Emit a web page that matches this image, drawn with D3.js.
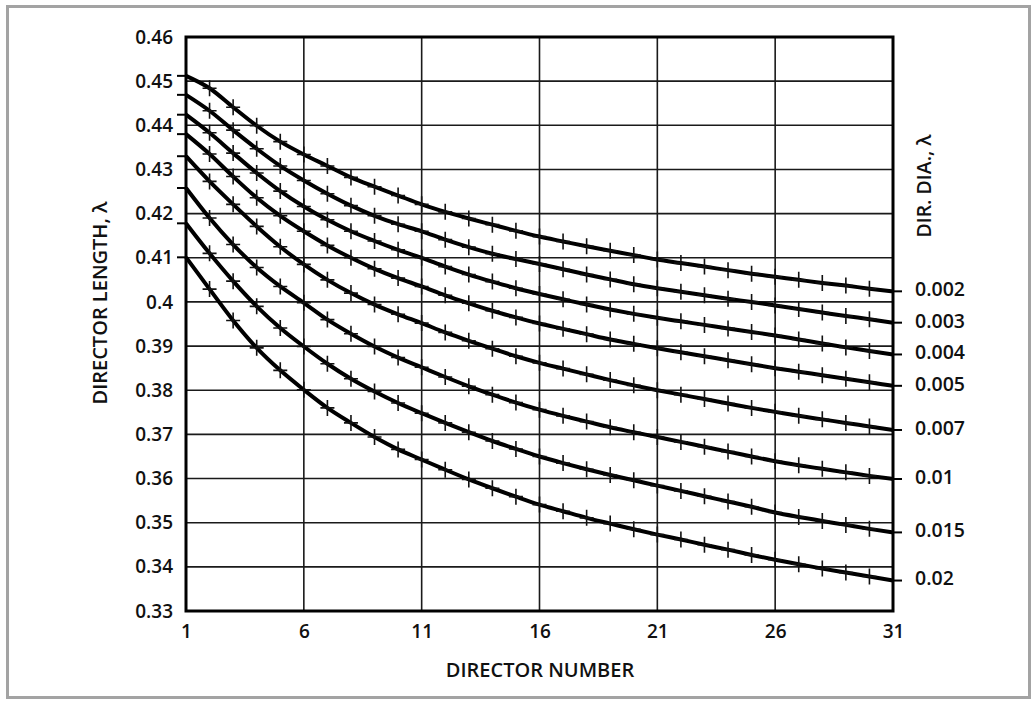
<!DOCTYPE html>
<html>
<head>
<meta charset="utf-8">
<script src="https://cdn.jsdelivr.net/npm/d3@7/dist/d3.min.js"></script>
<style>
  body { margin: 0; background: #fff; }
  text { font-family: "Open Sans", sans-serif; font-weight: 600; fill: #111; }
</style>
</head>
<body>
<svg id="chart" width="1036" height="704"></svg>
<script>
'use strict';

// director number, 1..31
var directors = [1, 2, 3, 4, 5, 6, 7, 8, 9, 10, 11, 12, 13, 14, 15, 16,
                 17, 18, 19, 20, 21, 22, 23, 24, 25, 26, 27, 28, 29, 30, 31];

var xTicks = [1, 6, 11, 16, 21, 26, 31];
var yTicks = [0.33, 0.34, 0.35, 0.36, 0.37, 0.38, 0.39, 0.4, 0.41, 0.42, 0.43, 0.44, 0.45, 0.46];
var yTickLabels = ['0.33', '0.34', '0.35', '0.36', '0.37', '0.38', '0.39', '0.4', '0.41', '0.42', '0.43', '0.44', '0.45', '0.46'];

// director diameter (wavelengths), one curve each
var diameters = ['0.002', '0.003', '0.004', '0.005', '0.007', '0.01', '0.015', '0.02'];

// director length (wavelengths) per director number
var len002 = [0.4512, 0.4484, 0.4441, 0.4399, 0.4363, 0.4334, 0.4308, 0.4282, 0.4261, 0.4241, 0.4221,
              0.4204, 0.4189, 0.4175, 0.4161, 0.4148, 0.4137, 0.4126, 0.4116, 0.4106, 0.4096,
              0.4088, 0.4080, 0.4072, 0.4064, 0.4057, 0.4050, 0.4043, 0.4037, 0.4030, 0.4024];
var len003 = [0.4469, 0.4433, 0.4389, 0.4347, 0.4308, 0.4275, 0.4245, 0.4218, 0.4195, 0.4176, 0.4160,
              0.4141, 0.4124, 0.4109, 0.4097, 0.4086, 0.4074, 0.4062, 0.4051, 0.4040, 0.4031,
              0.4023, 0.4015, 0.4007, 0.4000, 0.3992, 0.3984, 0.3976, 0.3968, 0.3961, 0.3953];
var len004 = [0.4424, 0.4383, 0.4337, 0.4292, 0.4251, 0.4216, 0.4186, 0.4160, 0.4138, 0.4118, 0.4100,
              0.4080, 0.4062, 0.4046, 0.4031, 0.4018, 0.4006, 0.3994, 0.3983, 0.3973, 0.3964,
              0.3956, 0.3948, 0.3940, 0.3932, 0.3924, 0.3915, 0.3906, 0.3897, 0.3889, 0.3881];
var len005 = [0.4380, 0.4335, 0.4284, 0.4236, 0.4195, 0.4160, 0.4128, 0.4100, 0.4075, 0.4054, 0.4035,
              0.4015, 0.3997, 0.3980, 0.3965, 0.3951, 0.3939, 0.3927, 0.3915, 0.3905, 0.3895,
              0.3886, 0.3877, 0.3868, 0.3859, 0.3850, 0.3842, 0.3834, 0.3826, 0.3818, 0.3810];
var len007 = [0.4330, 0.4273, 0.4221, 0.4171, 0.4125, 0.4085, 0.4050, 0.4020, 0.3994, 0.3972, 0.3952,
              0.3931, 0.3912, 0.3894, 0.3877, 0.3862, 0.3849, 0.3836, 0.3823, 0.3811, 0.3800,
              0.3790, 0.3780, 0.3770, 0.3760, 0.3751, 0.3742, 0.3734, 0.3726, 0.3718, 0.3710];
var len010 = [0.4258, 0.4190, 0.4130, 0.4078, 0.4035, 0.3998, 0.3960, 0.3928, 0.3899, 0.3874, 0.3852,
              0.3830, 0.3809, 0.3790, 0.3772, 0.3756, 0.3742, 0.3729, 0.3716, 0.3705, 0.3694,
              0.3683, 0.3672, 0.3661, 0.3650, 0.3639, 0.3630, 0.3622, 0.3614, 0.3606, 0.3599];
var len015 = [0.4178, 0.4110, 0.4047, 0.3990, 0.3941, 0.3899, 0.3860, 0.3826, 0.3797, 0.3771, 0.3748,
              0.3726, 0.3705, 0.3685, 0.3667, 0.3650, 0.3635, 0.3621, 0.3608, 0.3596, 0.3584,
              0.3572, 0.3560, 0.3548, 0.3536, 0.3523, 0.3513, 0.3504, 0.3495, 0.3486, 0.3478];
var len020 = [0.4101, 0.4029, 0.3958, 0.3896, 0.3845, 0.3801, 0.3760, 0.3726, 0.3694, 0.3666, 0.3643,
              0.3620, 0.3598, 0.3578, 0.3559, 0.3541, 0.3526, 0.3511, 0.3498, 0.3485, 0.3473,
              0.3462, 0.3450, 0.3439, 0.3427, 0.3416, 0.3406, 0.3396, 0.3387, 0.3378, 0.3369];

var lengths = [len002, len003, len004, len005, len007, len010, len015, len020];

var series = diameters.map(function (dia, i) {
  return {
    dia: dia,
    points: directors.map(function (n, j) { return { n: n, v: lengths[i][j] }; })
  };
});

var svg = d3.select('#chart');

// outer grey frame
svg.append('rect')
  .attr('x', 7.5).attr('y', 6.5)
  .attr('width', 1022).attr('height', 691)
  .attr('fill', '#fff')
  .attr('stroke', '#a3a3a3')
  .attr('stroke-width', 3);

var x = d3.scaleLinear().domain([1, 31]).range([186, 893]);
var y = d3.scaleLinear().domain([0.33, 0.46]).range([611, 37]);

// grid
var grid = svg.append('g').attr('class', 'grid');
grid.selectAll('line.h')
  .data(yTicks.slice(1, -1))
  .enter().append('line')
    .attr('class', 'h')
    .attr('x1', x(1)).attr('x2', x(31))
    .attr('y1', function (d) { return y(d); })
    .attr('y2', function (d) { return y(d); })
    .attr('stroke', '#1a1a1a')
    .attr('stroke-width', 1.6);
grid.selectAll('line.v')
  .data(xTicks.slice(1, -1))
  .enter().append('line')
    .attr('class', 'v')
    .attr('y1', y(0.33)).attr('y2', y(0.46))
    .attr('x1', function (d) { return x(d); })
    .attr('x2', function (d) { return x(d); })
    .attr('stroke', '#1a1a1a')
    .attr('stroke-width', 1.6);

// x axis labels
var xAxis = d3.axisBottom(x).tickValues(xTicks).tickSize(0).tickPadding(14).tickFormat(d3.format('d'));
svg.append('g')
  .attr('transform', 'translate(0,' + y(0.33) + ')')
  .call(xAxis)
  .call(function (g) { g.select('.domain').remove(); })
  .selectAll('text')
    .attr('font-size', 19)
    .attr('font-family', null);

// y axis labels
var yAxis = d3.axisLeft(y).tickValues(yTicks).tickSize(0).tickPadding(13)
  .tickFormat(function (d, i) { return yTickLabels[i]; });
svg.append('g')
  .attr('transform', 'translate(' + x(1) + ',0)')
  .call(yAxis)
  .call(function (g) { g.select('.domain').remove(); })
  .selectAll('text')
    .attr('font-size', 19)
    .attr('font-family', null);

// curves
var line = d3.line()
  .x(function (d) { return x(d.n); })
  .y(function (d) { return y(d.v); })
  .curve(d3.curveMonotoneX);

var curve = svg.selectAll('g.curve')
  .data(series)
  .enter().append('g')
    .attr('class', 'curve');

curve.append('path')
  .attr('d', function (d) { return line(d.points); })
  .attr('fill', 'none')
  .attr('stroke', '#000')
  .attr('stroke-width', 4)
  .attr('stroke-linejoin', 'round');

// + markers at each director
curve.selectAll('path.mark')
  .data(function (d) { return d.points.slice(1, -1); })
  .enter().append('path')
    .attr('class', 'mark')
    .attr('d', 'M-7,0H7M0,-8V8')
    .attr('transform', function (d) { return 'translate(' + x(d.n) + ',' + y(d.v) + ')'; })
    .attr('stroke', '#111')
    .attr('stroke-width', 1.6);

// ticks at the start and end of each curve
curve.append('line')
  .attr('x1', x(1) - 9).attr('x2', x(1))
  .attr('y1', function (d) { return y(d.points[0].v); })
  .attr('y2', function (d) { return y(d.points[0].v); })
  .attr('stroke', '#000').attr('stroke-width', 2);
curve.append('line')
  .attr('x1', x(31)).attr('x2', x(31) + 9)
  .attr('y1', function (d) { return y(d.points[d.points.length - 1].v); })
  .attr('y2', function (d) { return y(d.points[d.points.length - 1].v); })
  .attr('stroke', '#000').attr('stroke-width', 2);

// diameter labels on the right
curve.append('text')
  .attr('x', x(31) + 22)
  .attr('y', function (d) { return y(d.points[d.points.length - 1].v) - 2; })
  .attr('dy', '0.35em')
  .attr('font-size', 19.5)
  .text(function (d) { return d.dia; });

// plot border
svg.append('rect')
  .attr('x', x(1)).attr('y', y(0.46))
  .attr('width', x(31) - x(1)).attr('height', y(0.33) - y(0.46))
  .attr('fill', 'none')
  .attr('stroke', '#000')
  .attr('stroke-width', 3);

// titles
svg.append('text')
  .attr('x', 540)
  .attr('y', 677)
  .attr('text-anchor', 'middle')
  .attr('font-size', 20)
  .text('DIRECTOR NUMBER');

svg.append('text')
  .attr('transform', 'translate(107,303) rotate(-90)')
  .attr('text-anchor', 'middle')
  .attr('font-size', 20)
  .text('DIRECTOR LENGTH, \u03bb');

svg.append('text')
  .attr('transform', 'translate(931,186) rotate(-90)')
  .attr('text-anchor', 'middle')
  .attr('font-size', 19.5)
  .text('DIR. DIA., \u03bb');
</script>
</body>
</html>
